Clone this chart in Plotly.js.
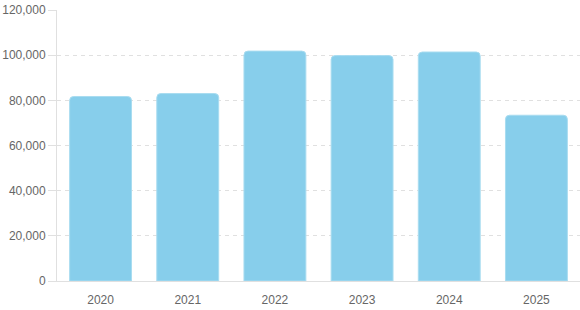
<!DOCTYPE html>
<html><head><meta charset="utf-8">
<script src="https://cdn.plot.ly/plotly-3.0.1.min.js"></script>
<style>html,body{margin:0;padding:0;background:#fff}#c{width:580px;height:310px}</style>
</head><body><div id="c"></div>
<script>
const years = ['2020','2021','2022','2023','2024','2025'];
const values = [81700, 83000, 101800, 99800, 101400, 73400];
const yTicks = [0, 20000, 40000, 60000, 80000, 100000, 120000];
const yTickText = ['0','20,000','40,000','60,000','80,000','100,000','120,000'];

Plotly.newPlot('c', [{
  type: 'bar', x: years, y: values,
  marker: {color: '#87CEEB', line: {color: '#a8dcf0', width: 1}, cornerradius: 4},
  hoverinfo: 'x+y'
}], {
  width: 580, height: 310,
  margin: {l: 57, r: 0, t: 10, b: 29},
  paper_bgcolor: '#fff', plot_bgcolor: '#fff',
  bargap: 0.29,
  font: {family: 'Liberation Sans, Arial, sans-serif', size: 12, color: '#666'},
  xaxis: {showline: true, linecolor: '#e0e0e0', linewidth: 1, ticks: 'outside', ticklen: 8,
          tickcolor: 'rgba(0,0,0,0)', showgrid: false,
          tickfont: {size: 12, color: '#666'}},
  yaxis: {range: [0, 120000], tickvals: yTicks, ticktext: yTickText,
          showline: true, linecolor: '#e0e0e0', linewidth: 1,
          ticks: 'outside', ticklen: 8, tickcolor: '#e0e0e0',
          gridcolor: '#e0e0e0', griddash: '4px,4px', gridwidth: 1, zeroline: false,
          tickfont: {size: 12, color: '#666'}},
  showlegend: false
}, {displayModeBar: false, staticPlot: true});
</script></body></html>
